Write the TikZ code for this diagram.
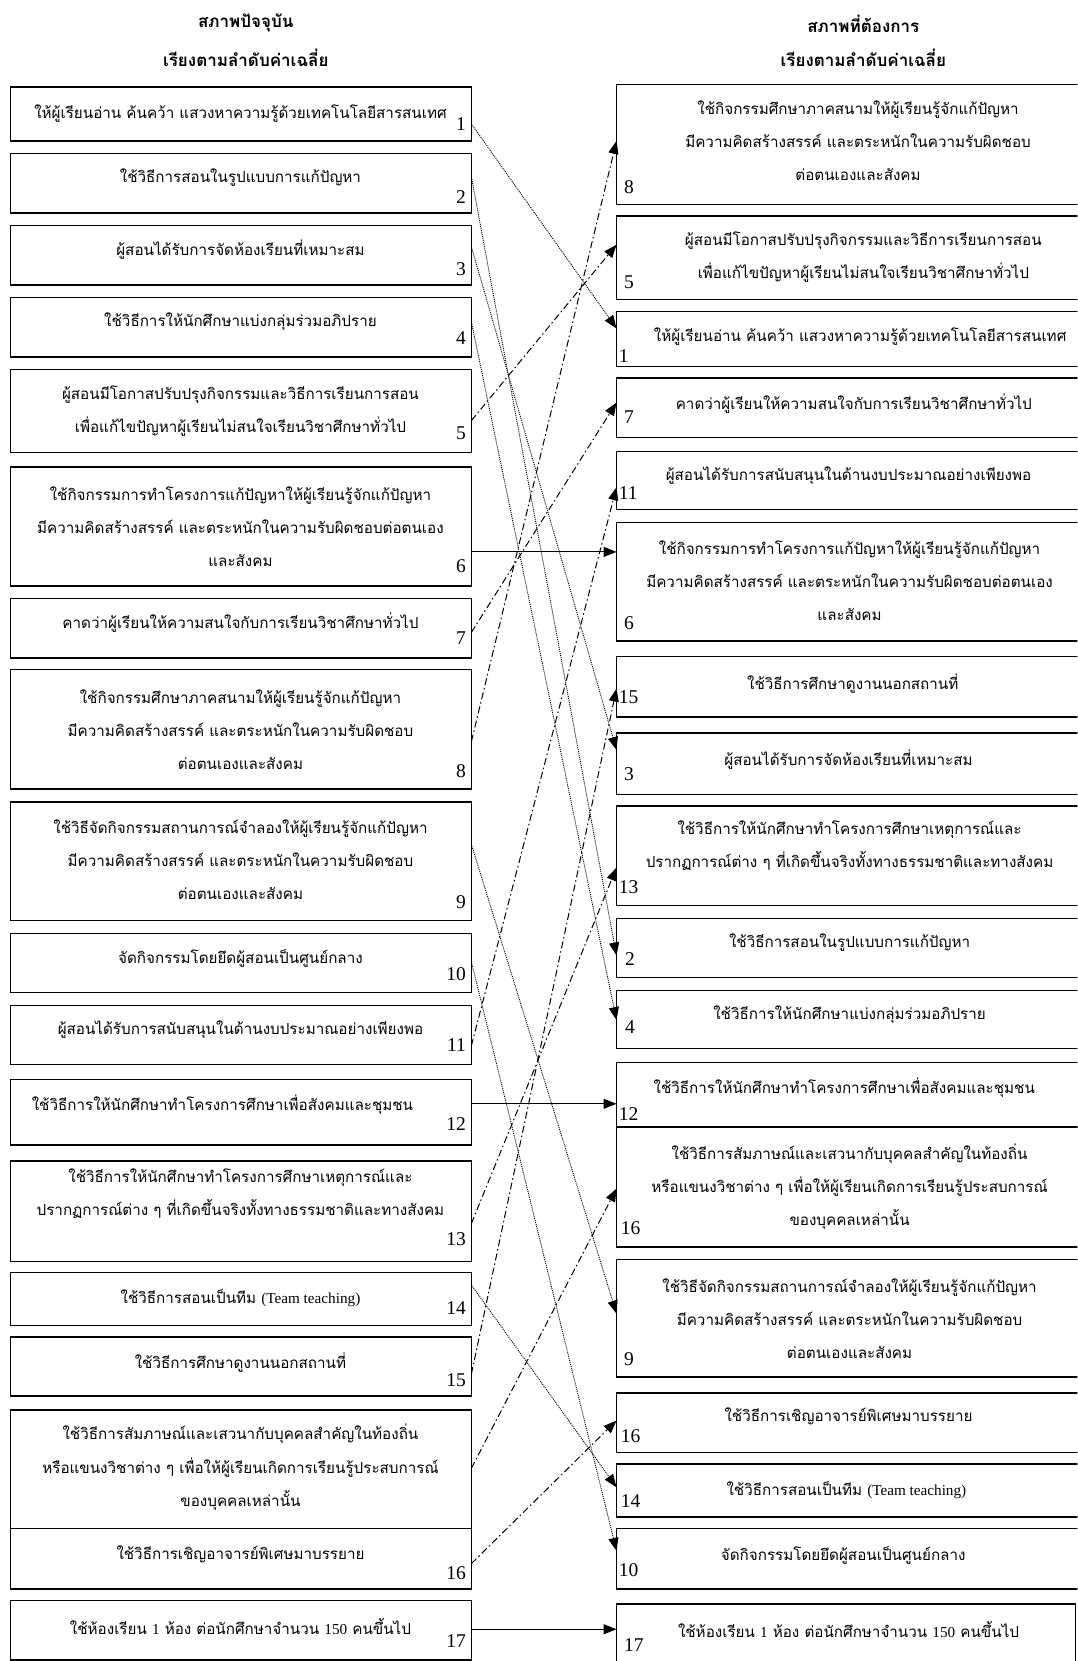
\documentclass[tikz,border=0pt]{standalone}
\usepackage{fontspec}
\setmainfont{Liberation Serif}
\newfontfamily\thai[Script=Thai]{Loma}
\usetikzlibrary{arrows.meta,fit}
\newcommand\mybox[5]{\node[box,fit={(#2,#3) (#4,#5)}] (#1) {};}
\newcommand\la[1]{{\rmfamily #1}}
\begin{document}
\begin{tikzpicture}[x=1.059pt,y=-1.059pt,
  box/.style={draw,line width=1.4pt,inner sep=0pt,outer sep=0pt,rectangle},
  txt/.style={font=\thai\fontsize{15.2}{33}\selectfont,align=center,inner sep=0pt},
  hdr/.style={font=\thai\bfseries\fontsize{17}{33}\selectfont,align=center,inner sep=0pt},
  num/.style={font=\fontsize{19.5}{19.5}\selectfont,inner sep=0pt},
  lnum/.style={num,anchor=east},
  rnum/.style={num,anchor=west},
  arr/.style={-{Triangle[length=13pt,width=10pt]}},
  dotline/.style={arr,line width=0.9pt,dash pattern=on 1pt off 1pt},
  dashdot/.style={arr,line width=1pt,dash pattern=on 7pt off 3pt on 1.5pt off 3pt},
  solidline/.style={arr,line width=1.1pt}]
\useasboundingbox (0,0) rectangle (1017,1568);
\clip (0,0) rectangle (1017,1568);
% headers
\node[hdr] (hl1) at (232,22) {สภาพปัจจุบัน};
\node[hdr] (hl2) at (232,55) {เรียงตามลำดับค่าเฉลี่ย};
\node[hdr] (hr1) at (815,22) {สภาพที่ต้องการ};
\node[hdr] (hr2) at (815,55) {เรียงตามลำดับค่าเฉลี่ย};
% left boxes
\mybox{L1}{10}{82}{445}{133}
\mybox{L2}{10}{145}{445}{201}
\mybox{L3}{10}{213}{445}{269}
\mybox{L4}{10}{281}{445}{337}
\mybox{L5}{10}{349}{445}{427}
\mybox{L6}{10}{441}{445}{553}
\mybox{L7}{10}{565}{445}{621}
\mybox{L8}{10}{632}{445}{745}
\mybox{L9}{10}{757}{445}{869}
\mybox{L10}{10}{881}{445}{937}
\mybox{L11}{10}{949}{445}{1005}
\mybox{L12}{10}{1019}{445}{1081}
\mybox{L13}{10}{1096}{445}{1191}
\mybox{L14}{10}{1201}{445}{1251}
\mybox{L15}{10}{1262}{445}{1318}
\mybox{L16b}{10}{1331}{445}{1443}
\mybox{L16}{10}{1443}{445}{1500}
\mybox{L17}{10}{1511}{445}{1567}
% right boxes
\mybox{R8}{582}{80}{1040}{193}
\mybox{R5}{582}{204}{1040}{283}
\mybox{R1}{582}{294}{1040}{346}
\mybox{R7}{582}{357}{1040}{413}
\mybox{R11}{582}{426}{1040}{481}
\mybox{R6}{582}{493}{1040}{605}
\mybox{R15}{582}{620}{1040}{677}
\mybox{R3}{582}{692}{1040}{750}
\mybox{R13}{582}{761}{1040}{855}
\mybox{R2}{582}{867}{1040}{923}
\mybox{R4}{582}{935}{1040}{990}
\mybox{R12}{582}{1003}{1040}{1064}
\mybox{R16b}{582}{1064}{1040}{1177}
\mybox{R9}{582}{1189}{1040}{1300}
\mybox{R16}{582}{1315}{1040}{1371}
\mybox{R14}{582}{1382}{1040}{1432}
\mybox{R10}{582}{1443}{1040}{1500}
\mybox{R17}{582}{1514}{1015}{1575}
% left texts
\node[txt] (tL1) at (227,107) {ให้ผู้เรียนอ่าน ค้นคว้า แสวงหาความรู้ด้วยเทคโนโลยีสารสนเทศ};
\node[txt] (tL2) at (227,168) {ใช้วิธีการสอนในรูปแบบการแก้ปัญหา};
\node[txt] (tL3) at (227,236) {ผู้สอนได้รับการจัดห้องเรียนที่เหมาะสม};
\node[txt] (tL4) at (227,304) {ใช้วิธีการให้นักศึกษาแบ่งกลุ่มร่วมอภิปราย};
\node[txt] (tL5) at (227,388) {ผู้สอนมีโอกาสปรับปรุงกิจกรรมและวิธีการเรียนการสอน\\เพื่อแก้ไขปัญหาผู้เรียนไม่สนใจเรียนวิชาศึกษาทั่วไป};
\node[txt] (tL6) at (227,497) {ใช้กิจกรรมการทำโครงการแก้ปัญหาให้ผู้เรียนรู้จักแก้ปัญหา\\มีความคิดสร้างสรรค์ และตระหนักในความรับผิดชอบต่อตนเอง\\และสังคม};
\node[txt] (tL7) at (227,588) {คาดว่าผู้เรียนให้ความสนใจกับการเรียนวิชาศึกษาทั่วไป};
\node[txt] (tL8) at (227,689) {ใช้กิจกรรมศึกษาภาคสนามให้ผู้เรียนรู้จักแก้ปัญหา\\มีความคิดสร้างสรรค์ และตระหนักในความรับผิดชอบ\\ต่อตนเองและสังคม};
\node[txt] (tL9) at (227,812) {ใช้วิธีจัดกิจกรรมสถานการณ์จำลองให้ผู้เรียนรู้จักแก้ปัญหา\\มีความคิดสร้างสรรค์ และตระหนักในความรับผิดชอบ\\ต่อตนเองและสังคม};
\node[txt] (tL10) at (227,905) {จัดกิจกรรมโดยยึดผู้สอนเป็นศูนย์กลาง};
\node[txt] (tL11) at (227,972) {ผู้สอนได้รับการสนับสนุนในด้านงบประมาณอย่างเพียงพอ};
\node[txt] (tL12) at (210,1043) {ใช้วิธีการให้นักศึกษาทำโครงการศึกษาเพื่อสังคมและชุมชน};
\node[txt] (tL13) at (227,1127) {ใช้วิธีการให้นักศึกษาทำโครงการศึกษาเหตุการณ์และ\\ปรากฏการณ์ต่าง ๆ ที่เกิดขึ้นจริงทั้งทางธรรมชาติและทางสังคม};
\node[txt] (tL14) at (227,1225) {ใช้วิธีการสอนเป็นทีม \la{(Team teaching)}};
\node[txt] (tL15) at (227,1286) {ใช้วิธีการศึกษาดูงานนอกสถานที่};
\node[txt] (tL16b) at (227,1385) {ใช้วิธีการสัมภาษณ์และเสวนากับบุคคลสำคัญในท้องถิ่น\\หรือแขนงวิชาต่าง ๆ เพื่อให้ผู้เรียนเกิดการเรียนรู้ประสบการณ์\\ของบุคคลเหล่านั้น};
\node[txt] (tL16) at (227,1467) {ใช้วิธีการเชิญอาจารย์พิเศษมาบรรยาย};
\node[txt] (tL17) at (227,1535) {ใช้ห้องเรียน \la{1} ห้อง ต่อนักศึกษาจำนวน \la{150} คนขึ้นไป};
% left numbers
\node[lnum] (nL1) at (440,117) {1};
\node[lnum] (nL2) at (440,186) {2};
\node[lnum] (nL3) at (440,254) {3};
\node[lnum] (nL4) at (440,319) {4};
\node[lnum] (nL5) at (440,409) {5};
\node[lnum] (nL6) at (440,534) {6};
\node[lnum] (nL7) at (440,602) {7};
\node[lnum] (nL8) at (440,728) {8};
\node[lnum] (nL9) at (440,852) {9};
\node[lnum] (nL10) at (440,920) {10};
\node[lnum] (nL11) at (440,987) {11};
\node[lnum] (nL12) at (440,1061) {12};
\node[lnum] (nL13) at (440,1170) {13};
\node[lnum] (nL14) at (440,1235) {14};
\node[lnum] (nL15) at (440,1303) {15};
\node[lnum] (nL16) at (440,1485) {16};
\node[lnum] (nL17) at (440,1549) {17};
% right texts
\node[txt] (tR8) at (810,133) {ใช้กิจกรรมศึกษาภาคสนามให้ผู้เรียนรู้จักแก้ปัญหา\\มีความคิดสร้างสรรค์ และตระหนักในความรับผิดชอบ\\ต่อตนเองและสังคม};
\node[txt] (tR5) at (815,243) {ผู้สอนมีโอกาสปรับปรุงกิจกรรมและวิธีการเรียนการสอน\\เพื่อแก้ไขปัญหาผู้เรียนไม่สนใจเรียนวิชาศึกษาทั่วไป};
\node[txt] (tR1) at (812,318) {ให้ผู้เรียนอ่าน ค้นคว้า แสวงหาความรู้ด้วยเทคโนโลยีสารสนเทศ};
\node[txt] (tR7) at (806,381) {คาดว่าผู้เรียนให้ความสนใจกับการเรียนวิชาศึกษาทั่วไป};
\node[txt] (tR11) at (801,449) {ผู้สอนได้รับการสนับสนุนในด้านงบประมาณอย่างเพียงพอ};
\node[txt] (tR6) at (802,548) {ใช้กิจกรรมการทำโครงการแก้ปัญหาให้ผู้เรียนรู้จักแก้ปัญหา\\มีความคิดสร้างสรรค์ และตระหนักในความรับผิดชอบต่อตนเอง\\และสังคม};
\node[txt] (tR15) at (805,645) {ใช้วิธีการศึกษาดูงานนอกสถานที่};
\node[txt] (tR3) at (801,717) {ผู้สอนได้รับการจัดห้องเรียนที่เหมาะสม};
\node[txt] (tR13) at (802,798) {ใช้วิธีการให้นักศึกษาทำโครงการศึกษาเหตุการณ์และ\\ปรากฏการณ์ต่าง ๆ ที่เกิดขึ้นจริงทั้งทางธรรมชาติและทางสังคม};
\node[txt] (tR2) at (802,890) {ใช้วิธีการสอนในรูปแบบการแก้ปัญหา};
\node[txt] (tR4) at (802,958) {ใช้วิธีการให้นักศึกษาแบ่งกลุ่มร่วมอภิปราย};
\node[txt] (tR12) at (797,1027) {ใช้วิธีการให้นักศึกษาทำโครงการศึกษาเพื่อสังคมและชุมชน};
\node[txt] (tR16b) at (802,1120) {ใช้วิธีการสัมภาษณ์และเสวนากับบุคคลสำคัญในท้องถิ่น\\หรือแขนงวิชาต่าง ๆ เพื่อให้ผู้เรียนเกิดการเรียนรู้ประสบการณ์\\ของบุคคลเหล่านั้น};
\node[txt] (tR9) at (802,1245) {ใช้วิธีจัดกิจกรรมสถานการณ์จำลองให้ผู้เรียนรู้จักแก้ปัญหา\\มีความคิดสร้างสรรค์ และตระหนักในความรับผิดชอบ\\ต่อตนเองและสังคม};
\node[txt] (tR16) at (801,1337) {ใช้วิธีการเชิญอาจารย์พิเศษมาบรรยาย};
\node[txt] (tR14) at (799,1407) {ใช้วิธีการสอนเป็นทีม \la{(Team teaching)}};
\node[txt] (tR10) at (796,1468) {จัดกิจกรรมโดยยึดผู้สอนเป็นศูนย์กลาง};
\node[txt] (tR17) at (801,1538) {ใช้ห้องเรียน \la{1} ห้อง ต่อนักศึกษาจำนวน \la{150} คนขึ้นไป};
% right numbers
\node[rnum] (nR8) at (589,177) {8};
\node[rnum] (nR5) at (589,266) {5};
\node[rnum] (nR1) at (584,336) {1};
\node[rnum] (nR7) at (589,394) {7};
\node[rnum] (nR11) at (584,465) {11};
\node[rnum] (nR6) at (589,588) {6};
\node[rnum] (nR15) at (584,658) {15};
\node[rnum] (nR3) at (589,731) {3};
\node[rnum] (nR13) at (584,837) {13};
\node[rnum] (nR2) at (590,905) {2};
\node[rnum] (nR4) at (590,970) {4};
\node[rnum] (nR12) at (584,1052) {12};
\node[rnum] (nR16b) at (586,1159) {16};
\node[rnum] (nR9) at (589,1283) {9};
\node[rnum] (nR16) at (586,1356) {16};
\node[rnum] (nR14) at (586,1417) {14};
\node[rnum] (nR10) at (584,1482) {10};
\node[rnum] (nR17) at (589,1553) {17};
% connectors
\draw[dotline] (L1.east |- 0,117) -- (R1.west |- 0,310);
\draw[dotline] (L2.east |- 0,167) -- (R2.west |- 0,902);
\draw[dotline] (L3.east |- 0,233) -- (R3.west |- 0,708);
\draw[dotline] (L4.east |- 0,304) -- (R4.west |- 0,963);
\draw[dashdot] (L5.east |- 0,397) -- (R5.west |- 0,231);
\draw[solidline] (L6.east |- 0,521) -- (R6.west |- 0,521);
\draw[dashdot] (L7.east |- 0,597) -- (R7.west |- 0,380);
\draw[dashdot] (L8.east |- 0,700) -- (R8.west |- 0,133);
\draw[dotline] (L9.east |- 0,797) -- (R9.west |- 0,1240);
\draw[dotline] (L10.east |- 0,908) -- (R10.west |- 0,1464);
\draw[dashdot] (L11.east |- 0,987) -- (R11.west |- 0,460);
\draw[solidline] (L12.east |- 0,1042) -- (R12.west |- 0,1042);
\draw[dashdot] (L13.east |- 0,1155) -- (R13.west |- 0,819);
\draw[dotline] (L14.east |- 0,1213) -- (R14.west |- 0,1404);
\draw[dashdot] (L15.east |- 0,1297) -- (R15.west |- 0,650);
\draw[dashdot] (L16b.east |- 0,1386) -- (R16b.west |- 0,1122);
\draw[dashdot] (L16.east |- 0,1476) -- (R16.west |- 0,1341);
\draw[solidline] (L17.east |- 0,1538) -- (R17.west |- 0,1538);
\end{tikzpicture}
\end{document}
